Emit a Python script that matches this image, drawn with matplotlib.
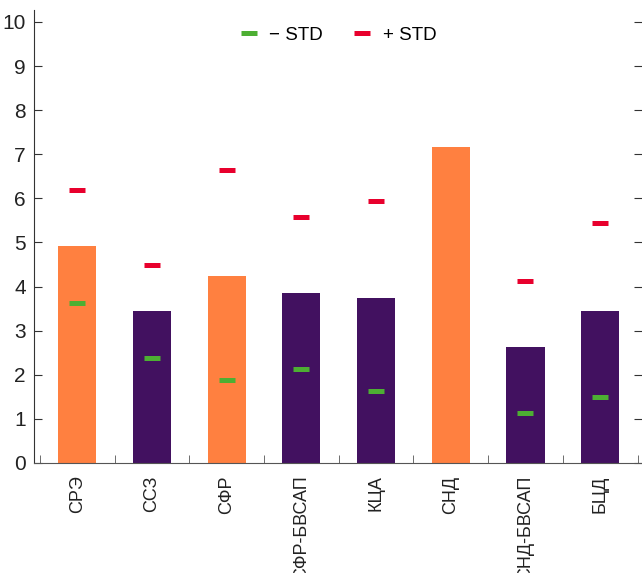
import matplotlib
matplotlib.use("Agg")
import matplotlib.pyplot as plt
from matplotlib import font_manager

# datos
categorias = ["СРЭ", "ССЗ", "СФР", "СФР-БВСАП", "КЦА", "СНД", "СНД-БВСАП", "БЦД"]
valores = [4.92, 3.45, 4.24, 3.85, 3.74, 7.17, 2.63, 3.45]
menos_std = [3.63, 2.38, 1.88, 2.13, 1.63, None, 1.13, 1.50]
mas_std = [6.19, 4.49, 6.64, 5.58, 5.94, None, 4.13, 5.44]
es_naranja = [True, False, True, False, False, True, False, False]

naranja = "#FF8040"
morado = "#421160"
verde = "#4DAF33"
rojo = "#E8002D"

nombres = [f.name for f in font_manager.fontManager.ttflist]
fuente = "Liberation Sans Narrow" if "Liberation Sans Narrow" in nombres else "Liberation Sans"
plt.rcParams["font.family"] = [fuente, "DejaVu Sans"]

fig = plt.figure(figsize=(6.42, 5.73), dpi=100)
ax = fig.add_axes([34 / 642, 110 / 573, 608 / 642, 453 / 573])

x = list(range(len(categorias)))
colores = [naranja if n else morado for n in es_naranja]
ax.bar(x, valores, width=0.51, color=colores, zorder=2)

xs_m = [i for i, v in zip(x, menos_std) if v is not None]
ys_m = [v for v in menos_std if v is not None]
xs_p = [i for i, v in zip(x, mas_std) if v is not None]
ys_p = [v for v in mas_std if v is not None]
ax.plot(xs_m, ys_m, linestyle="none", marker="_", markersize=11.5, mew=3.6,
        color=verde, label="− STD", zorder=3)
ax.plot(xs_p, ys_p, linestyle="none", marker="_", markersize=11.5, mew=3.6,
        color=rojo, label="+ STD", zorder=3)

ax.set_xlim(-0.58, 7.56)
ax.set_ylim(0, 10.27)
ax.set_yticks(range(0, 11))
ax.set_xticks(x)
ax.set_xticklabels(categorias, rotation=90, fontsize=13, color="#222222")
ax.tick_params(axis="x", length=0, pad=9)
ax.set_xticks([i - 0.5 for i in range(len(categorias) + 1)], minor=True)
ax.tick_params(axis="x", which="minor", direction="in", length=6, color="#555555")
ax.tick_params(axis="y", direction="in", length=6, labelsize=15, color="#333333",
               labelcolor="#222222", right=True, pad=6)

for lado in ["top", "right"]:
    ax.spines[lado].set_visible(False)
ax.spines["left"].set_color("#333333")
ax.spines["bottom"].set_color("#555555")

ax.legend(loc="upper center", ncol=2, frameon=False, fontsize=13.5,
          bbox_to_anchor=(0.5, 1.0), handlelength=1.0, columnspacing=1.6,
          handletextpad=0.6)

fig.savefig("out.png", dpi=100)
